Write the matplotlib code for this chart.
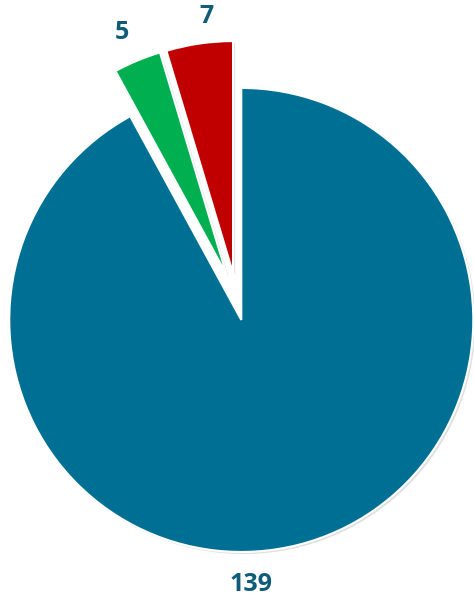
import numpy as np
import matplotlib.pyplot as plt
import matplotlib.patheffects as pe

# --- data ---
values = [139, 5, 7]
labels = ['139', '5', '7']
colors = ['#006F94', '#00B050', '#C00000']

# pull-out of each slice: (distance in radii, direction in degrees)
pull = [(0, 0), (0.205, 108), (0.205, 100)]

# label positions (data units, pie radius = 1)
label_pos = [(0.04, -1.142), (-0.515, 1.237), (-0.152, 1.31)]

fig = plt.figure(figsize=(4.74, 6.03), dpi=100)
ax = fig.add_axes([0, 0, 1, 1])

wedges, _ = ax.pie(values, colors=colors, startangle=90,
                   counterclock=False, radius=1.0,
                   wedgeprops=dict(edgecolor='white', linewidth=1.5))

for w, (d, ang) in zip(wedges, pull):
    a = np.deg2rad(ang)
    w.set_center((d * np.cos(a), d * np.sin(a)))
    # faint drop shadow like the original
    w.set_path_effects([pe.SimplePatchShadow(offset=(1.5, -1.5), shadow_rgbFace='gray', alpha=0.25),
                        pe.Normal()])

for txt, (x, y) in zip(labels, label_pos):
    ax.text(x, y, txt, ha='center', va='center', fontsize=18,
            fontweight='bold', color='#0F5B78', family=['Open Sans', 'DejaVu Sans'])

ax.set_xlim(-1.040, 1.003)
ax.set_ylim(-1.220, 1.379)
ax.set_aspect('equal')
ax.axis('off')

fig.savefig('out.png', dpi=100)
